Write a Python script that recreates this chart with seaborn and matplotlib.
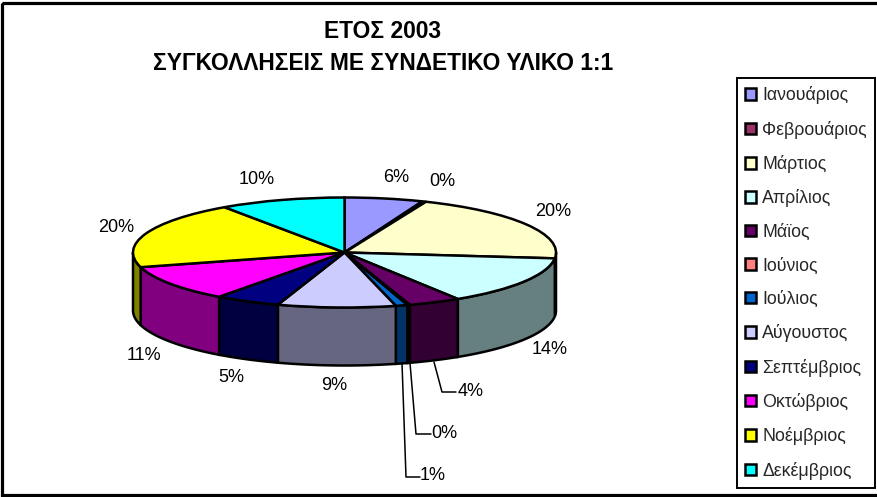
import numpy as np
import matplotlib
matplotlib.use('Agg')
import matplotlib.pyplot as plt
from matplotlib.patches import Rectangle
import seaborn as sns

months = ['Ιανουάριος', 'Φεβρουάριος', 'Μάρτιος', 'Απρίλιος', 'Μάϊος', 'Ιούνιος',
          'Ιούλιος', 'Αύγουστος', 'Σεπτέμβριος', 'Οκτώβριος', 'Νοέμβριος', 'Δεκέμβριος']
values = [6.0, 0.3, 20.4, 14.3, 4.0, 0.2, 0.9, 9.0, 5.0, 10.6, 19.7, 9.6]
slice_colors = ['#9999FF', '#993366', '#FFFFCC', '#CCFFFF', '#660066', '#FF8080',
                '#0066CC', '#CCCCFF', '#000080', '#FF00FF', '#FFFF00', '#00FFFF']
title_lines = ['ΕΤΟΣ 2003', 'ΣΥΓΚΟΛΛΗΣΕΙΣ ΜΕ ΣΥΝΔΕΤΙΚΟ ΥΛΙΚΟ 1:1']

sns.set_theme(style='white')
plt.rcParams['font.family'] = ['Liberation Sans', 'DejaVu Sans']

W, H = 878, 497
fig = plt.figure(figsize=(W / 100, H / 100), dpi=100, facecolor='white')

# overlay in pixel coords for border, title, labels
ov = fig.add_axes([0, 0, 1, 1], zorder=3)
ov.set_xlim(0, W)
ov.set_ylim(H, 0)
ov.axis('off')
ov.patch.set_alpha(0)

# pie axes: unit circle gets squashed into the tilted ellipse
cx, cy, rx, ry = 344.5, 252.5, 211.5, 55
ax = fig.add_axes([(cx - rx) / W, 1 - (cy + ry) / H, 2 * rx / W, 2 * ry / H], zorder=2)
palette = sns.color_palette(slice_colors)
wedges, _ = ax.pie(values, colors=palette, startangle=90, counterclock=False,
                   wedgeprops={'edgecolor': 'black', 'linewidth': 1.8, 'clip_on': False})
ax.set_aspect('auto')
ax.set_xlim(-1, 1)
ax.set_ylim(-1, 1)

# side walls, half the brightness of the top colour
depth = 58 / ry
for w, c in zip(wedges, palette):
    for k in (-360, 0, 360):
        lo, hi = max(w.theta1 + k, 180), min(w.theta2 + k, 360)
        if hi <= lo:
            continue
        t = np.radians(np.linspace(lo, hi, 60))
        xs = np.concatenate([np.cos(t), np.cos(t[::-1])])
        ys = np.concatenate([np.sin(t), np.sin(t[::-1]) - depth])
        ax.fill(xs, ys, facecolor=tuple(v * 0.5 for v in c), edgecolor='black',
                linewidth=1.8, clip_on=False, zorder=0)

# frame runs off the right edge of the picture
ov.add_patch(Rectangle((2.5, 3), 880, 492, fill=False, edgecolor='black', linewidth=2.3))

for line, y in zip(title_lines, [32, 63]):
    ov.text(383, y, line, ha='center', va='center', fontsize=16.4, fontweight='bold', color='black')

# percent labels, same order as months
label_xy = [(396, 178), (442, 182), (553, 211), (550, 349), (471, 392), (444, 434),
            (433, 476), (334, 385), (231, 377), (144, 355), (116, 228), (257, 179)]
for v, (lx, ly) in zip(values, label_xy):
    ov.text(lx, ly, f'{v:.0f}%', ha='center', va='center', fontsize=13, color='black')

# leader lines of the thin slices
leaders = [[(434, 362), (442, 392), (456, 392)],
           [(410, 363), (416, 434), (431, 434)],
           [(402, 363), (406, 477), (420, 477)]]
for pts in leaders:
    ov.plot(*zip(*pts), color='black', linewidth=1.1)

leg = ov.legend(wedges, months, loc='upper left', bbox_to_anchor=(737 / W, 1 - 78 / H),
                bbox_transform=fig.transFigure, borderaxespad=0, frameon=True, fancybox=False,
                edgecolor='black', framealpha=1, fontsize=12.8, handlelength=0.62, handleheight=0.62,
                handletextpad=0.33, labelspacing=0.92, borderpad=0.47)
leg.get_frame().set_linewidth(1.4)

plt.savefig('out.png', dpi=100)
